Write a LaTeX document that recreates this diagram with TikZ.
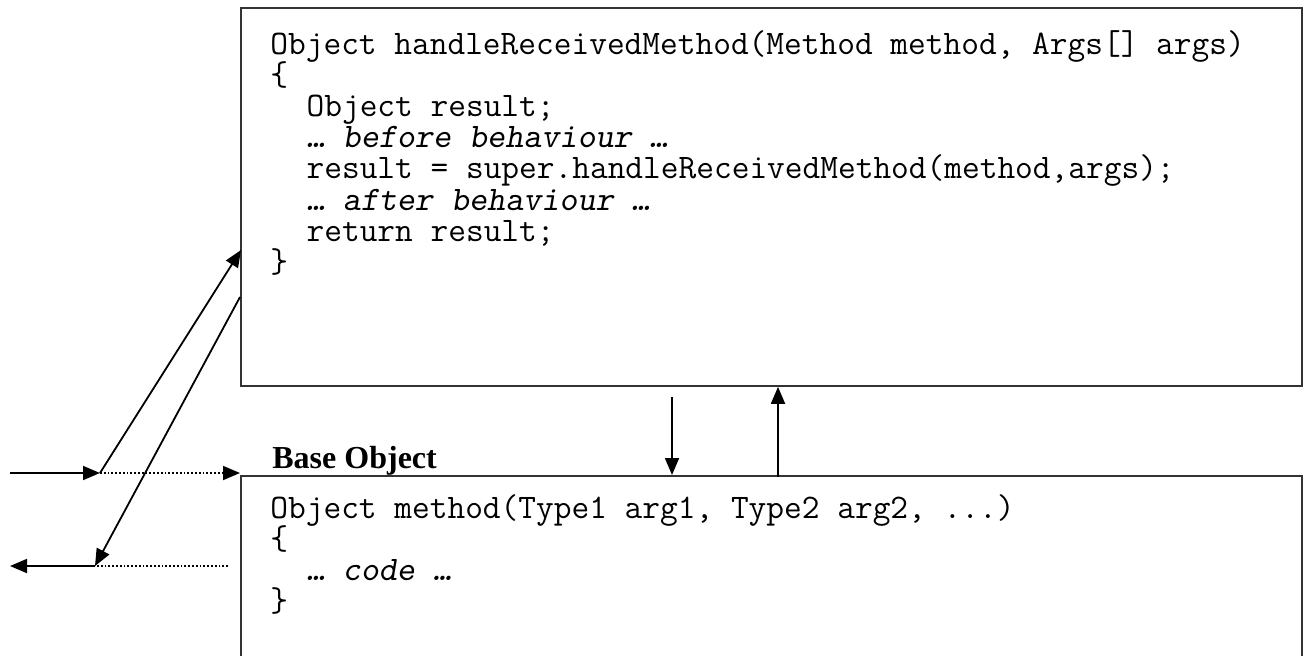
\documentclass[tikz,border=0pt]{standalone}
\usepackage{fontspec}
\setmainfont{Liberation Serif}
\usetikzlibrary{arrows.meta}

\begin{document}
\begin{tikzpicture}[
  x=0.5pt,
  y=-0.5pt,
  box/.style={draw=black!80,line width=0.9pt,inner sep=0pt,anchor=north west},
  code/.style={font=\ttfamily\fontsize{17.2}{18}\selectfont,anchor=base west,inner sep=0pt},
  title/.style={font=\bfseries\fontsize{16}{18}\selectfont,anchor=base west,inner sep=0pt},
  call/.style={-{Triangle[length=8.5pt,width=7pt]},line width=0.9pt},
  pass/.style={call,densely dotted}
]
\clip (0,0) rectangle (1309,655);
% the two objects
\node[box,minimum width=530.5pt,minimum height=189pt] (aspect) at (240,7) {};
\node[box,minimum width=530.5pt,minimum height=115pt] (base) at (240,475) {};
\node[title] (basetitle) at (272,468) {Base Object};
\foreach \ind/\ln [count=\i] in {0/{Object handleReceivedMethod(Method method, Args[] args)}, 0/\{, 2/Object result;, 2/{\slshape … before behaviour …}, 2/{result = super.handleReceivedMethod(method,args);}, 2/{\slshape … after behaviour …}, 2/return result;, 0/\}}
  \node[code] (wrap\i) at ({270+18.1*\ind},{54+31.2*(\i-1)}) {\ln};
\foreach \ind/\ln [count=\i] in {0/{Object method(Type1 arg1, Type2 arg2, ...)}, 0/\{, 2/{\slshape … code …}, 0/\}}
  \node[code] (orig\i) at ({270+18.1*\ind},{518+31.3*(\i-1)}) {\ln};
% call path
\coordinate (callin) at (10,473);
\coordinate (fork) at (100,473);
\coordinate (enter) at (241,250);
\coordinate (leave) at (240,297);
\coordinate (back) at (95,566);
\coordinate (callout) at (10,566);
\coordinate (dotend) at (228,566);
\coordinate (down) at (672,397);
\coordinate (rise) at (778,477);
\draw[call] (callin) -- (fork);
\draw[pass] (fork) -- (fork -| base.north west);
\draw[call] (fork) -- (enter);
\draw[call] (leave) -- (back);
\draw[line width=0.9pt,densely dotted] (dotend) -- (back);
\draw[call] (back) -- (callout);
\draw[call] (down) -- (down |- base.north);
\draw[call] (rise) -- (rise |- aspect.south);
\end{tikzpicture}
\end{document}
